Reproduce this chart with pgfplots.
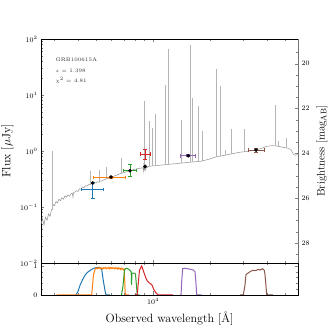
\documentclass[border=0pt]{standalone}
\usepackage{pgfplots}
\pgfplotsset{compat=1.18}

\definecolor{tabblue}{HTML}{1F77B4}
\definecolor{taborange}{HTML}{FF7F0E}
\definecolor{tabgreen}{HTML}{2CA02C}
\definecolor{tabred}{HTML}{D62728}
\definecolor{tabpurple}{HTML}{9467BD}
\definecolor{tabbrown}{HTML}{8C564B}
\definecolor{specgray}{HTML}{B4B4B4}

\pgfplotsset{
  every axis/.append style={
    tick align=inside,
    ticklabel style={font=\scriptsize},
    label style={font=\large},
    major tick length=3.5pt, minor tick length=2pt,
  },
}

\begin{document}
\begin{tikzpicture}[x=1pt,y=1pt]
\path[use as bounding box] (0,0) rectangle (332,332);

% ---------- SED panel ----------
\begin{axis}[scale only axis, anchor=south west, at={(41pt,69pt)},
  width=257pt, height=224pt,
  xmode=log, ymode=log, xmin=2556, xmax=58511, ymin=1e-2, ymax=1e2,
  xtick={10000}, minor xtick={3000,4000,5000,6000,7000,8000,9000,20000,30000,40000,50000},
  xticklabels={}, xtick pos=both, ytick pos=left,
  ylabel={Flux [$\mu$Jy]},
  unbounded coords=jump,
]
% model continuum
\addplot[specgray!80!black, line width=0.5pt] coordinates {
 (2556,0.050) (2603,0.062) (2651,0.048) (2700,0.066) (2750,0.058) (2800,0.075)
 (2852,0.068) (2904,0.088) (2922,0.090) (2958,0.112) (3012,0.105) (3068,0.125)
 (3124,0.118) (3182,0.138) (3240,0.130) (3300,0.146) (3361,0.138) (3423,0.158)
 (3486,0.150) (3550,0.165) (3615,0.155) (3682,0.172) (3749,0.176) (3773,0.150)
 (3800,0.180) (3870,0.186) (3941,0.195) (4014,0.190) (4088,0.212) (4163,0.208)
 (4240,0.228) (4318,0.222) (4397,0.240) (4478,0.236) (4560,0.252) (4644,0.248)
 (4730,0.262) (4817,0.258) (4905,0.272) (4995,0.268) (5087,0.282) (5181,0.278)
 (5276,0.293) (5373,0.290) (5472,0.305) (5642,0.315) (5800,0.325) (5923,0.333)
 (6100,0.345) (6294,0.362) (6488,0.375) (6688,0.393) (6900,0.405) (7108,0.418)
 (7330,0.430) (7554,0.445) (7790,0.458) (8027,0.473) (8280,0.482) (8535,0.493)
 (8700,0.498) (8854,0.500) (8900,0.440) (8960,0.620) (9020,0.450) (9080,0.580)
 (9150,0.460) (9220,0.550) (9300,0.500) (9400,0.530) (9641,0.535) (10247,0.546)
 (10889,0.558) (11572,0.569) (12300,0.581) (13071,0.593) (13896,0.605)
 (14765,0.618) (15697,0.631) (16683,0.644) (17731,0.652) (18843,0.685)
 (20025,0.720) (21281,0.775) (22622,0.808) (24044,0.841) (25551,0.877)
 (27164,0.914) (28864,0.952) (30681,0.972) (32606,1.004) (35075,1.042)
 (37737,1.122) (40104,1.218) (42618,1.243) (44751,1.233) (46989,1.193)
 (49934,1.145) (51798,1.122) (53729,1.055) (55049,0.895) (56408,0.841) (58511,0.859)
};
% emission lines of the model
\addplot[specgray, line width=0.5pt] coordinates {
 (2922,0.090) (2922,0.984) (2922,nan)
 (4682,0.262) (4682,0.432) (4682,nan)
 (5224,0.290) (5224,0.450) (5224,nan)
 (5662,0.318) (5662,0.518) (5662,nan)
 (6795,0.400) (6795,0.750) (6795,nan)
 (8963,0.510) (8963,7.69) (8963,nan)
 (9524,0.535) (9524,3.40) (9524,nan)
 (9939,0.540) (9939,2.61) (9939,nan)
 (10335,0.548) (10335,4.50) (10335,nan)
 (11657,0.570) (11657,15.3) (11657,nan)
 (12007,0.575) (12007,66.3) (12007,nan)
 (14190,0.610) (14190,3.52) (14190,nan)
 (15740,0.631) (15740,79.1) (15740,nan)
 (16150,0.637) (16150,9.00) (16150,nan)
 (17365,0.650) (17365,6.30) (17365,nan)
 (18323,0.670) (18323,2.24) (18323,nan)
 (21727,0.785) (21727,29.1) (21727,nan)
 (22815,0.810) (22815,14.3) (22815,nan)
 (24044,0.841) (24044,1.05) (24044,nan)
 (25860,0.880) (25860,2.47) (25860,nan)
 (30420,0.970) (30420,2.47) (30420,nan)
 (44370,1.235) (44370,6.71) (44370,nan)
 (46030,1.210) (46030,1.48) (46030,nan)
 (50980,1.130) (50980,1.71)
};
% observed photometry: filter width (horizontal) and flux error (vertical)
\addplot[tabblue, line width=0.9pt, mark=|, mark size=1.8pt] coordinates {(4200,0.207) (5460,0.207)};
\addplot[tabblue, line width=0.9pt, mark=-, mark size=1.8pt] coordinates {(4800,0.143) (4800,0.275)};
\addplot[taborange, line width=0.9pt, mark=|, mark size=1.8pt] coordinates {(4832,0.338) (7108,0.338)};
\addplot[taborange, line width=0.9pt, mark=-, mark size=1.8pt] coordinates {(5994,0.326) (5994,0.350)};
\addplot[tabgreen, line width=0.9pt, mark=|, mark size=1.8pt] coordinates {(6937,0.445) (8198,0.445)};
\addplot[tabgreen, line width=0.9pt, mark=-, mark size=1.8pt] coordinates {(7554,0.352) (7554,0.569)};
\addplot[tabred, line width=0.9pt, mark=|, mark size=1.8pt] coordinates {(8535,0.884) (9641,0.884)};
\addplot[tabred, line width=0.9pt, mark=-, mark size=1.8pt] coordinates {(9072,0.720) (9072,1.055)};
\addplot[tabpurple, line width=0.9pt, mark=|, mark size=1.8pt] coordinates {(14020,0.824) (16820,0.824)};
\addplot[tabpurple, line width=0.9pt, mark=-, mark size=1.8pt] coordinates {(15370,0.784) (15370,0.864)};
\addplot[tabbrown, line width=0.9pt, mark=|, mark size=1.8pt] coordinates {(32100,1.040) (39000,1.040)};
\addplot[tabbrown, line width=0.9pt, mark=-, mark size=1.8pt] coordinates {(35075,0.950) (35075,1.130)};
% model photometry
\addplot[only marks, mark=*, mark size=1.6pt, black] coordinates {
 (4800,0.268) (5994,0.343) (7554,0.445) (9072,0.531) (15370,0.820) (35075,1.040)
};
\node[anchor=west, font=\fontsize{5.2}{6}\selectfont, text=black!80] at (axis cs:2922,42.7) {GRB100615A};
\node[anchor=west, font=\fontsize{5.2}{6}\selectfont, text=black!80] at (axis cs:2922,27.2) {$z$ = 1.398};
\node[anchor=west, font=\fontsize{5.2}{6}\selectfont, text=black!80] at (axis cs:2922,18.0) {$\chi^2$ = 4.81};
\end{axis}

% ---------- AB magnitude axis ----------
\begin{axis}[scale only axis, anchor=south west, at={(41pt,69pt)},
  width=257pt, height=224pt,
  xmode=log, xmin=2556, xmax=58511,
  y dir=reverse, ymin=18.9, ymax=28.9,
  axis y line*=right, axis x line=none,
  axis line style={black!55},
  ytick={20,22,24,26,28}, minor ytick={19.5,20.5,21,21.5,22.5,23,23.5,24.5,25,25.5,26.5,27,27.5,28.5},
  ylabel={Brightness [mag$_\mathrm{AB}$]},
  ylabel style={font=\fontsize{11}{13}\selectfont},
]
\addplot[draw=none] coordinates {(3000,20) (30000,28)};
\end{axis}

% ---------- filter panel ----------
\begin{axis}[scale only axis, anchor=south west, at={(41pt,37pt)},
  width=257pt, height=32pt,
  xmode=log, xmin=2556, xmax=58511,
  xtick={10000}, minor xtick={3000,4000,5000,6000,7000,8000,9000,20000,30000,40000,50000},
  ymin=0, ymax=1.1, ytick={0,1}, minor ytick={0.2,0.4,0.6,0.8},
  xtick pos=both, ytick pos=both, yticklabel pos=left,
  xlabel={Observed wavelength [\AA]},
  every axis plot/.append style={line width=1pt, no marks},
]
\addplot[tabblue] coordinates {
 (3914,0) (4010,0.12) (4109,0.33) (4236,0.52) (4368,0.68) (4502,0.78) (4642,0.84)
 (4785,0.90) (4933,0.93) (5085,0.95) (5243,0.95) (5353,0.88) (5458,0.50)
 (5570,0.16) (5642,0) (5923,0)
};
\addplot[taborange] coordinates {
 (3094,0) (4739,0) (4785,0.30) (4844,0.70) (4933,0.87) (5000,0.93) (5060,0.90)
 (5120,0.94) (5180,0.91) (5240,0.95) (5300,0.90) (5360,0.93) (5420,0.89)
 (5480,0.94) (5540,0.92) (5600,0.95) (5660,0.90) (5720,0.93) (5780,0.91)
 (5840,0.95) (5900,0.90) (5960,0.94) (6020,0.92) (6080,0.95) (6140,0.91)
 (6200,0.93) (6260,0.90) (6320,0.94) (6380,0.91) (6440,0.93) (6500,0.89)
 (6560,0.93) (6620,0.90) (6680,0.92) (6740,0.88) (6800,0.92) (6860,0.89)
 (6920,0.91) (6980,0.87) (7040,0.89) (7080,0.60) (7120,0.10) (7196,0) (7500,0)
};
\addplot[tabgreen] coordinates {
 (6812,0) (6937,0.30) (7066,0.85) (7196,0.92) (7375,0.90) (7554,0.85)
 (7666,0.80) (7703,0.35) (7743,0.75) (7933,0.75) (8081,0.72) (8180,0.30)
 (8259,0) (8500,0)
};
\addplot[tabred] coordinates {
 (8000,0) (8259,0) (8330,0.30) (8484,0.85) (8713,1.00) (8905,0.82) (9127,0.62)
 (9296,0.50) (9525,0.42) (9843,0.36) (10123,0.18) (10373,0.07) (10667,0) (12757,0)
};
\addplot[tabpurple] coordinates {
 (13896,0) (14066,0) (14200,0.50) (14360,0.91) (14765,0.92) (15317,0.90)
 (15888,0.88) (16337,0.86) (16683,0.80) (16888,0.40) (17032,0) (18102,0)
};
\addplot[tabbrown] coordinates {
 (28864,0) (30052,0) (30681,0.35) (31048,0.70) (31925,0.76) (33005,0.82)
 (33941,0.85) (35075,0.84) (36069,0.88) (36824,0.86) (38058,0.90) (38800,0.85)
 (39139,0.70) (39619,0.30) (39958,0) (43143,0)
};
\end{axis}
\end{tikzpicture}
\end{document}
